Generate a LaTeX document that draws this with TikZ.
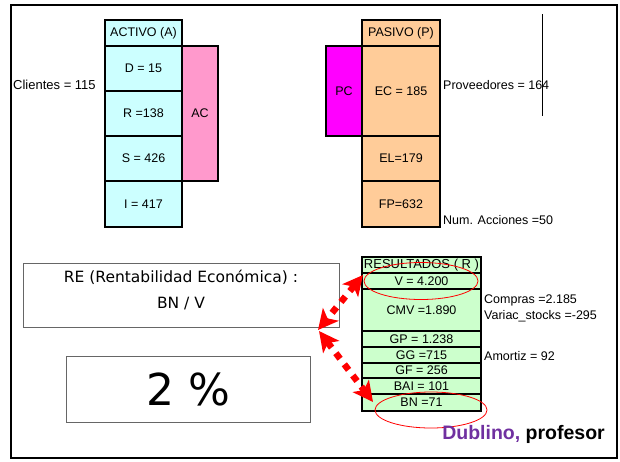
\documentclass[tikz,border=0pt]{standalone}
\usepackage{fontspec}
\setmainfont{Liberation Sans}
\newfontfamily\comic{DejaVu Sans}
\usetikzlibrary{arrows.meta}
\definecolor{cyanlt}{HTML}{CCFFFF}
\definecolor{pinklt}{HTML}{FF99CC}
\definecolor{magentab}{HTML}{FF00FF}
\definecolor{orangelt}{HTML}{FFCC99}
\definecolor{greenlt}{HTML}{CCFFCC}
\definecolor{purpled}{HTML}{7030A0}
\definecolor{grayline}{HTML}{666666}
\tikzset{
  cell/.style={draw=black, line width=1.2pt, inner sep=0pt, font=\fontsize{12.5}{14}\selectfont},
  acell/.style={cell, fill=cyanlt, minimum width=77pt},
  pcell/.style={cell, fill=orangelt, minimum width=78pt},
  rcell/.style={cell, fill=greenlt, minimum width=119pt},
  lbl/.style={anchor=west, inner sep=0pt, font=\fontsize{12.5}{14}\selectfont},
  box/.style={draw=grayline, line width=0.9pt, inner sep=0pt},
  redarrow/.style={red, line width=6.5pt, dash pattern=on 7pt off 7pt,
     {Stealth[length=20pt,width=20pt,inset=5pt]}-{Stealth[length=20pt,width=20pt,inset=5pt]}},
  circ/.style={draw=red, line width=0.8pt}
}
\begin{document}
\begin{tikzpicture}[x=1pt,y=-1pt]
\useasboundingbox (0,0) rectangle (620,461);
\draw[line width=2.2pt] (11,5) rectangle (617,458);

% ACTIVO
\node[cell, fill=pinklt, minimum width=36pt, minimum height=135pt] (AC) at (200,113.5) {AC};
\node[acell, minimum height=26pt] (hA) at (143.5,33) {ACTIVO (A)};
\node[acell, minimum height=45pt] (D) at (143.5,68.5) {D = 15};
\node[acell, minimum height=45pt] (R) at (143.5,113.5) {R =138};
\node[acell, minimum height=45pt] (S) at (143.5,158.5) {S = 426};
\node[acell, minimum height=46pt] (I) at (143.5,204) {I = 417};
\node[lbl, font=\fontsize{13}{14}\selectfont] (cli) at (13,85) {Clientes = 115};

% PASIVO
\node[cell, fill=magentab, minimum width=36pt, minimum height=90pt] (PC) at (344,91) {PC};
\node[pcell, minimum height=26pt] (hP) at (401,33) {PASIVO (P)};
\node[pcell, minimum height=90pt] (EC) at (401,91) {EC = 185};
\node[pcell, minimum height=45pt] (EL) at (401,158.5) {EL=179};
\node[pcell, minimum height=46pt] (FP) at (401,204) {FP=632};
\node[lbl] (prov) at (443,85) {Proveedores = 164};
\node[lbl] (acc) at (443,220) {Num. Acciones =50};
\coordinate (vt) at (542,14);
\coordinate (vb) at (542,116);
\draw[line width=0.8pt] (vt) -- (vb);

% RESULTADOS
\node[rcell, minimum height=16pt, font=\fontsize{13}{14}\selectfont] (hR) at (421.5,265) {RESULTADOS ( R )};
\node[rcell, minimum height=16pt] (V) at (421.5,281) {V = 4.200};
\node[rcell, minimum height=42pt] (CMV) at (421.5,310) {CMV =1.890};
\node[rcell, minimum height=16pt] (GP) at (421.5,339) {GP = 1.238};
\node[rcell, minimum height=16pt] (GG) at (421.5,355) {GG =715};
\node[rcell, minimum height=15pt] (GF) at (421.5,370.5) {GF = 256};
\node[rcell, minimum height=16pt] (BAI) at (421.5,386) {BAI = 101};
\node[rcell, minimum height=17pt] (BN) at (421.5,402.5) {BN =71};
\node[lbl] (comp) at (484,300) {Compras =2.185};
\node[lbl] (var) at (484,316) {Variac\_stocks =-295};
\node[lbl] (amo) at (484,356) {Amortiz = 92};

% ellipses
\draw[circ] (421,281) ellipse [x radius=57, y radius=18.5];
\draw[circ] (431,410) ellipse [x radius=56, y radius=18];

% left boxes
\node[box, minimum width=316pt, minimum height=64pt] (RE) at (181,295) {};
\node[align=center, inner sep=0pt, font=\comic\fontsize{15.5}{26}\selectfont] (REt) at (181,290)
  {RE (Rentabilidad Económica) :\\BN / V};
\node[box, minimum width=244pt, minimum height=66pt,
  font=\comic\fontsize{44}{48}\selectfont] (pct) at (188,389) {2 \%};

% arrows
\coordinate (a1) at (363,275);
\coordinate (a2) at (318,330);
\coordinate (b1) at (319,331);
\coordinate (b2) at (373,402);
\draw[redarrow] (a1) -- (a2);
\draw[redarrow] (b1) -- (b2);

% signature
\node[anchor=east, inner sep=0pt, font=\bfseries\fontsize{19.5}{22}\selectfont] (sig) at (605,434)
  {\textcolor{purpled}{Dublino,} profesor};
\end{tikzpicture}
\end{document}
